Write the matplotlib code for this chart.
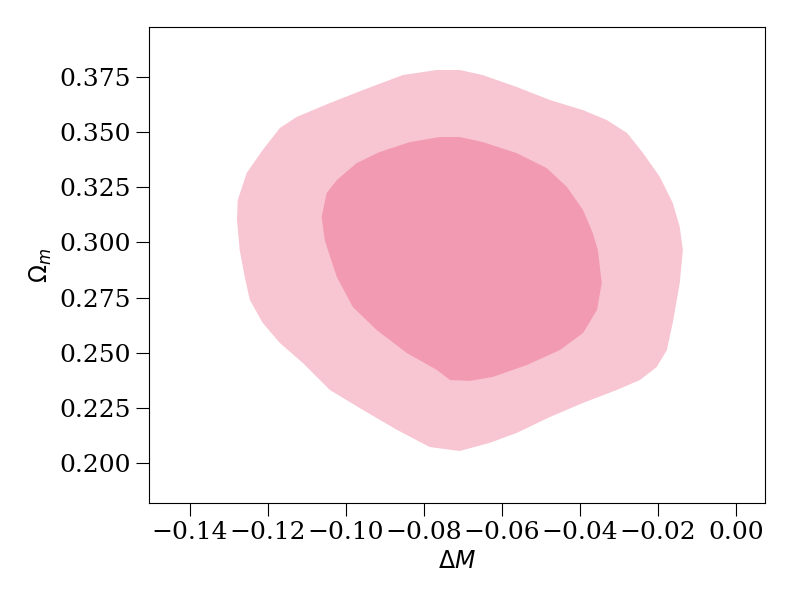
import matplotlib.pyplot as plt

# outer (95%) contour boundary, data units
outer_dm = [-0.0767, -0.0708, -0.0649, -0.0562, -0.0477, -0.0392, -0.0331, -0.0279, -0.0238,
            -0.0195, -0.0162, -0.0144, -0.0136, -0.0144, -0.0162, -0.0177, -0.0203, -0.0246,
            -0.0305, -0.0392, -0.0477, -0.0562, -0.0631, -0.0708, -0.0785, -0.0869, -0.0956,
            -0.1041, -0.1110, -0.1169, -0.1213, -0.1246, -0.1259, -0.1272, -0.1279, -0.1277,
            -0.1254, -0.1213, -0.1169, -0.1126, -0.1041, -0.0956, -0.0854]
outer_om = [0.3782, 0.3782, 0.3759, 0.3705, 0.3646, 0.3600, 0.3555, 0.3496, 0.3405,
            0.3297, 0.3179, 0.3070, 0.2966, 0.2816, 0.2635, 0.2512, 0.2435, 0.2376,
            0.2331, 0.2272, 0.2208, 0.2136, 0.2091, 0.2054, 0.2072, 0.2150, 0.2240,
            0.2331, 0.2453, 0.2544, 0.2635, 0.2739, 0.2843, 0.2966, 0.3102, 0.3192,
            0.3315, 0.3419, 0.3519, 0.3569, 0.3632, 0.3691, 0.3759]

# inner (68%) contour boundary
inner_dm = [-0.0759, -0.0708, -0.0649, -0.0562, -0.0485, -0.0433, -0.0392, -0.0367, -0.0354,
            -0.0344, -0.0356, -0.0392, -0.0451, -0.0536, -0.0623, -0.0682, -0.0733, -0.0767,
            -0.0844, -0.0921, -0.0982, -0.1023, -0.1046, -0.1054, -0.1062, -0.1049, -0.1023,
            -0.0972, -0.0913, -0.0836]
inner_om = [0.3478, 0.3478, 0.3455, 0.3405, 0.3337, 0.3251, 0.3147, 0.3043, 0.2966,
            0.2816, 0.2694, 0.2589, 0.2512, 0.2444, 0.2390, 0.2372, 0.2376, 0.2422,
            0.2499, 0.2603, 0.2707, 0.2843, 0.2966, 0.3011, 0.3115, 0.3224, 0.3283,
            0.3360, 0.3410, 0.3455]

xticks = [-0.14, -0.12, -0.10, -0.08, -0.06, -0.04, -0.02, 0.00]
yticks = [0.200, 0.225, 0.250, 0.275, 0.300, 0.325, 0.350, 0.375]

fig, ax = plt.subplots(figsize=(8, 6), dpi=100)
fig.subplots_adjust(left=0.186, right=0.956, bottom=0.162, top=0.955)

ax.fill(outer_dm, outer_om, color='#f8c5d2', lw=0)
ax.fill(inner_dm, inner_om, color='#f29ab1', lw=0)

ax.set_xlim(-0.1505, 0.0074)
ax.set_ylim(0.1819, 0.3977)
ax.set_xticks(xticks)
ax.set_yticks(yticks)
ax.set_xticklabels(['%.2f' % v if v == 0 else ('\u2212%.2f' % abs(v)) for v in xticks],
                   family='DejaVu Serif', fontsize=18)
ax.set_yticklabels(['%.3f' % v for v in yticks], family='DejaVu Serif', fontsize=18)
ax.tick_params(direction='out', length=9.5, width=0.8)

ax.set_xlabel(r'$\Delta M$', fontsize=17)
ax.set_ylabel(r'$\Omega_m$', fontsize=17)

fig.savefig('out.png', dpi=100)
